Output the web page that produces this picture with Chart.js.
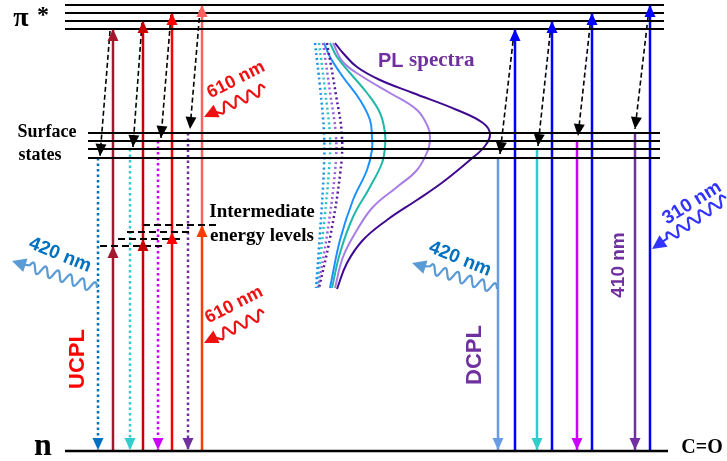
<!DOCTYPE html>
<html>
<head>
<meta charset="utf-8">
<script src="https://cdn.jsdelivr.net/npm/chart.js@4/dist/chart.umd.min.js"></script>
<style>
  html, body { margin: 0; padding: 0; background: #fff; }
  #wrap { width: 727px; height: 461px; }
</style>
</head>
<body>
<div id="wrap"><canvas id="chartCanvas" width="727" height="461"></canvas></div>
<script>
// energy levels (diagram units, y grows downwards)
const piLevels = [5, 13, 21, 29];
const surfaceLevels = [133, 141, 149, 158];
const groundLevel = 451;
const piSpan = [65, 664];
const surfaceSpan = [88, 660];
const groundSpan = [65, 668];
// intermediate levels: [xStart, xEnd, y]
const midLevels = [[100, 163, 246], [118, 182, 239], [127, 190, 232], [143, 217, 225]];

// UCPL side
const ucplX = [113, 143, 172, 202];
const ucplTop = [29, 21, 13, 5];
const ucplMid = [246, 239, 232, 225];
const ucplLowColors = ['#a3172f', '#c80000', '#ff0000', '#ff3c00'];
const ucplUpColors = ['#a3172f', '#c80000', '#ff0000', '#ff6060'];
const ucplEmitX = [98, 130, 158, 188];
const ucplEmitFrom = [158, 149, 141, 133];
const ucplEmitColors = ['#0070c0', '#33cccc', '#cc00ff', '#7030a0'];
const ucplRelaxFrom = [[110, 31], [142, 23], [171, 15], [200, 10]];
const ucplRelaxTo = [[100, 156], [133, 147], [161, 138], [190, 129]];

// DCPL side
const dcplX = [515, 552, 592, 650];
const dcplTop = [29, 21, 13, 5];
const dcplEmitX = [498, 537, 577, 635];
const dcplEmitFrom = [157, 149, 140, 133];
const dcplEmitColors = ['#6a9ce6', '#33cccc', '#cc00ff', '#7030a0'];
const dcplRelaxFrom = [[514, 33], [551, 25], [591, 17], [649, 9]];
const dcplRelaxTo = [[500, 154], [538, 146], [578, 136], [635, 129]];

// PL spectra, points as [x, y]
const plDarkPurple = [[335,43],[343,53],[357,67],[380,80],[413,93],[457,110],[483,123],[490,134],[485,146],[470,160],[443,182],[417,200],[387,220],[363,240],[347,263],[337,289]];
const plLightPurple = [[333,43],[343,62],[363,77],[390,93],[417,110],[428,127],[430,137],[428,150],[417,170],[397,187],[373,207],[357,230],[343,257],[335,288]];
const plTeal = [[330,43],[337,57],[350,73],[367,93],[380,113],[385,133],[385,147],[382,163],[370,187],[353,217],[340,253],[332,288]];
const plBlue = [[324,43],[330,57],[343,77],[360,100],[370,120],[372,137],[372,150],[367,170],[353,200],[340,240],[330,288]];
const plDotBlue = [[315,43],[320,87],[324,133],[324,167],[320,233],[316,288]];
const plDotCyan = [[319,43],[325,90],[330,137],[329,170],[323,233],[317,288]];
const plDotMagenta = [[323,43],[330,92],[336,137],[335,172],[327,235],[318,288]];
const plDotPurple = [[327,43],[336,95],[342,137],[340,175],[330,238],[319,288]];

function seg(x1, y1, x2, y2, color, width, dash, arrow) {
  return {
    data: [{x: x1, y: y1}, {x: x2, y: y2}],
    showLine: true, borderColor: color, borderWidth: width,
    borderDash: dash || [], pointRadius: 0, tension: 0,
    arrow: arrow || null
  };
}
function curve(pts, color, width, dash) {
  return {
    data: pts.map(p => ({x: p[0], y: p[1]})),
    showLine: true, borderColor: color, borderWidth: width,
    borderDash: dash || [], pointRadius: 0, tension: 0.4
  };
}

const datasets = [];
piLevels.forEach(y => datasets.push(seg(piSpan[0], y, piSpan[1], y, '#000', 2)));
surfaceLevels.forEach(y => datasets.push(seg(surfaceSpan[0], y, surfaceSpan[1], y, '#000', 2)));
datasets.push(seg(groundSpan[0], groundLevel, groundSpan[1], groundLevel, '#000', 2.5));
midLevels.forEach(m => datasets.push(seg(m[0], m[2], m[1], m[2], '#000', 2, [7, 4])));

// spectra
datasets.push(curve(plDotBlue, '#1a8fe8', 2.5, [2, 3]));
datasets.push(curve(plDotCyan, '#2cc4c4', 2.5, [2, 3]));
datasets.push(curve(plDotMagenta, '#9a5ce0', 2.5, [2, 3]));
datasets.push(curve(plDotPurple, '#5a1a9a', 2.5, [2, 3]));
datasets.push(curve(plBlue, '#1e90ff', 2));
datasets.push(curve(plTeal, '#1fb8a8', 2));
datasets.push(curve(plLightPurple, '#a87ee6', 2));
datasets.push(curve(plDarkPurple, '#3f0a8f', 2));

// UCPL
ucplX.forEach((x, i) => {
  datasets.push(seg(x, groundLevel, x, ucplMid[i], ucplLowColors[i], 2.5, null, 'solid'));
  datasets.push(seg(x, ucplMid[i], x, ucplTop[i], ucplUpColors[i], 2.5, null, 'solid'));
  datasets.push(seg(ucplEmitX[i], ucplEmitFrom[i], ucplEmitX[i], groundLevel - 1, ucplEmitColors[i], 2.5, [2.5, 3], 'solid'));
  datasets.push(seg(ucplRelaxFrom[i][0], ucplRelaxFrom[i][1], ucplRelaxTo[i][0], ucplRelaxTo[i][1], '#000', 1.6, [5, 3], 'solid'));
});
// DCPL
dcplX.forEach((x, i) => {
  datasets.push(seg(x, groundLevel, x, dcplTop[i], '#0000ff', 2.5, null, 'solid'));
  datasets.push(seg(dcplEmitX[i], dcplEmitFrom[i], dcplEmitX[i], groundLevel - 1, dcplEmitColors[i], 2.5, null, 'solid'));
  datasets.push(seg(dcplRelaxFrom[i][0], dcplRelaxFrom[i][1], dcplRelaxTo[i][0], dcplRelaxTo[i][1], '#000', 1.6, [5, 3], 'solid'));
});

// labels: text, x, y, rotation (deg), colour, font
const labels = [
  ['π', 21, 19, 0, '#000', 'bold 28px "Liberation Serif"'],
  ['*', 43, 16, 0, '#000', 'bold 24px "Liberation Serif"'],
  ['Surface', 47, 132, 0, '#000', 'bold 18px "Liberation Serif"'],
  ['states', 40, 155, 0, '#000', 'bold 18px "Liberation Serif"'],
  ['n', 43, 447, 0, '#000', 'bold 32px "Liberation Serif"'],
  ['C=O', 702, 448, 0, '#000', 'bold 20px "Liberation Serif"'],
  ['Intermediate', 262, 212, 0, '#000', 'bold 19px "Liberation Serif"'],
  ['energy levels', 262, 236, 0, '#000', 'bold 19px "Liberation Serif"'],
  ['610 nm', 236, 80, -27, '#ee1111', 'bold 18px "Liberation Sans"'],
  ['610 nm', 234, 305, -27, '#ee1111', 'bold 18px "Liberation Sans"'],
  ['420 nm', 60, 255, 22, '#0070c0', 'bold 19px "Liberation Sans"'],
  ['420 nm', 460, 259, 22, '#0070c0', 'bold 19px "Liberation Sans"'],
  ['310 nm', 692, 203, -32, '#3333ff', 'bold 19px "Liberation Sans"'],
  ['410 nm', 619, 265, -90, '#7030a0', 'bold 19px "Liberation Sans"'],
  ['UCPL', 78, 359, -90, '#ff0000', 'bold 22px "Liberation Sans"'],
  ['DCPL', 475, 355, -90, '#7030a0', 'bold 22px "Liberation Sans"']
];
// wavy photon arrows: from, tip, colour
const photons = [
  [[265, 88], [204, 117], '#ee1111'],
  [[264, 313], [204, 343], '#ee1111'],
  [[97, 288], [12, 261], '#5b9bd5'],
  [[497, 289], [412, 263], '#5b9bd5'],
  [[726, 198], [652, 249], '#3333ff']
];

function head(ctx, tx, ty, fx, fy, color, len, half) {
  const a = Math.atan2(ty - fy, tx - fx);
  ctx.save();
  ctx.fillStyle = color;
  ctx.beginPath();
  ctx.moveTo(tx, ty);
  ctx.lineTo(tx - len * Math.cos(a) + half * Math.sin(a), ty - len * Math.sin(a) - half * Math.cos(a));
  ctx.lineTo(tx - len * Math.cos(a) - half * Math.sin(a), ty - len * Math.sin(a) + half * Math.cos(a));
  ctx.closePath();
  ctx.fill();
  ctx.restore();
}

const diagramPlugin = {
  id: 'diagram',
  afterDatasetsDraw(chart) {
    const ctx = chart.ctx;
    const xs = chart.scales.x, ys = chart.scales.y;
    const px = v => xs.getPixelForValue(v), py = v => ys.getPixelForValue(v);
    chart.data.datasets.forEach(ds => {
      if (!ds.arrow) return;
      const a = ds.data[0], b = ds.data[ds.data.length - 1];
      head(ctx, px(b.x), py(b.y), px(a.x), py(a.y), ds.borderColor, 12, 5.5);
    });
    photons.forEach(p => {
      const fx = px(p[0][0]), fy = py(p[0][1]), tx = px(p[1][0]), ty = py(p[1][1]);
      const L = Math.hypot(tx - fx, ty - fy);
      const ux = (tx - fx) / L, uy = (ty - fy) / L;
      const headLen = 14, waveLen = L - headLen - 4;
      ctx.save();
      ctx.strokeStyle = p[2];
      ctx.lineWidth = 2.2;
      ctx.beginPath();
      for (let s = 0; s <= waveLen; s += 0.5) {
        const off = 5 * Math.sin(2 * Math.PI * s / 13);
        const x = fx + ux * s - uy * off, y = fy + uy * s + ux * off;
        if (s === 0) ctx.moveTo(x, y); else ctx.lineTo(x, y);
      }
      ctx.lineTo(tx - ux * (headLen - 2), ty - uy * (headLen - 2));
      ctx.stroke();
      ctx.restore();
      head(ctx, tx, ty, fx, fy, p[2], 14, 7);
    });
    labels.forEach(l => {
      ctx.save();
      ctx.translate(px(l[1]), py(l[2]));
      ctx.rotate(l[3] * Math.PI / 180);
      ctx.font = l[5];
      ctx.fillStyle = l[4];
      ctx.textAlign = 'center';
      ctx.textBaseline = 'middle';
      ctx.fillText(l[0], 0, 0);
      ctx.restore();
    });
    // PL spectra title: sans "PL" + serif "spectra"
    ctx.save();
    ctx.fillStyle = '#7030a0';
    ctx.textBaseline = 'middle';
    ctx.font = 'bold 20px "Liberation Sans"';
    ctx.fillText('PL', px(378), py(61));
    const w = ctx.measureText('PL ').width;
    ctx.font = 'bold 21px "Liberation Serif"';
    ctx.fillText('spectra', px(378) + w, py(61));
    ctx.restore();
  }
};

new Chart(document.getElementById('chartCanvas').getContext('2d'), {
  type: 'scatter',
  data: { datasets: datasets },
  options: {
    responsive: false,
    animation: false,
    layout: { padding: 0 },
    plugins: { legend: { display: false }, tooltip: { enabled: false } },
    scales: {
      x: { type: 'linear', min: 0, max: 727, display: false },
      y: { type: 'linear', min: 0, max: 461, reverse: true, display: false }
    }
  },
  plugins: [diagramPlugin]
});
</script>
</body>
</html>
